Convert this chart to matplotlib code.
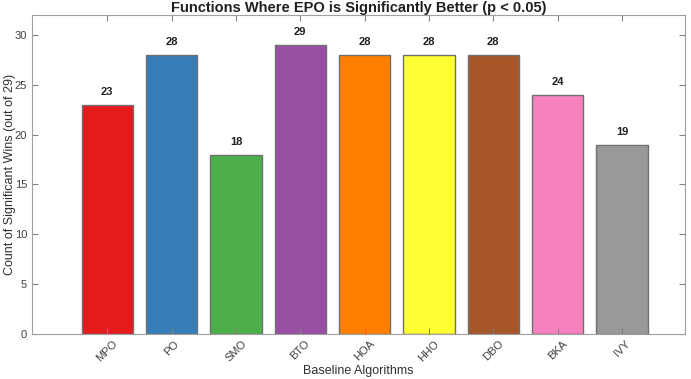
import matplotlib
matplotlib.use('Agg')
import matplotlib.pyplot as plt

plt.rcParams['font.family'] = ['Liberation Sans', 'DejaVu Sans']

algorithms = ['MPO', 'PO', 'SMO', 'BTO', 'HOA', 'HHO', 'DBO', 'BKA', 'IVY']
wins = [23, 28, 18, 29, 28, 28, 28, 24, 19]
colors = ['#E41A1C', '#377EB8', '#4DAF4A', '#984EA3', '#FF7F00',
          '#FFFF33', '#A65628', '#F781BF', '#999999']

fig = plt.figure(figsize=(6.91, 3.79), dpi=100)
ax = fig.add_axes([32 / 691, 1 - 334 / 379, (685 - 32) / 691, (334 - 15) / 379])

pos = list(range(1, len(algorithms) + 1))
ax.bar(pos, wins, width=0.8, color=colors, edgecolor='#707070', linewidth=1.0)

# value labels above each bar
for p, w in zip(pos, wins):
    ax.text(p, w + 0.8, str(w), ha='center', va='bottom',
            fontsize=8, fontweight='bold', color='#202020')

ax.set_xlim(-0.17, 9.98)
ax.set_ylim(0, 32)
ax.set_xticks(pos)
ax.set_xticklabels(algorithms, rotation=45, fontsize=8, color='#404040')
ax.set_yticks([0, 5, 10, 15, 20, 25, 30])
ax.tick_params(axis='y', labelsize=8, labelcolor='#404040')
ax.tick_params(direction='in', top=True, right=True, length=4,
               color='#808080', width=0.8)

for s in ax.spines.values():
    s.set_color('#a0a0a0')
    s.set_linewidth(0.8)

ax.set_title('Functions Where EPO is Significantly Better (p < 0.05)',
             fontsize=10.5, fontweight='bold', color='#202020', pad=2)
ax.set_xlabel('Baseline Algorithms', fontsize=9, color='#303030', labelpad=1)
ax.set_ylabel('Count of Significant Wins (out of 29)', fontsize=9, color='#303030')
ax.yaxis.set_label_coords(-0.024, 0.5)

fig.savefig('out.png', dpi=100)
